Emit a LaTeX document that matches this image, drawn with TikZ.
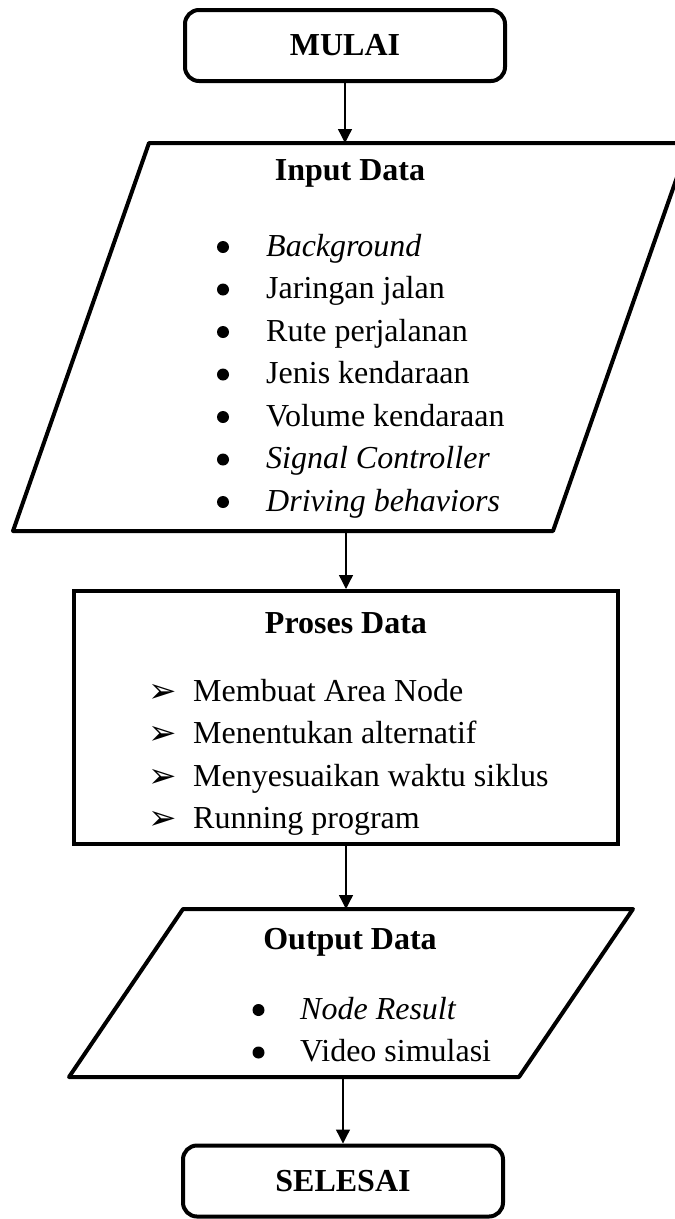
\documentclass[tikz,border=0pt]{standalone}
\usepackage{fontspec}
\setmainfont{Liberation Serif}
\newfontfamily\dejavu{DejaVu Sans}
\usetikzlibrary{arrows.meta}

\newcommand{\pnh}{\raisebox{-1pt}[0pt][0pt]{\dejavu\fontsize{34}{34}\selectfont ➢}}

\begin{document}
\begin{tikzpicture}[x=1pt,y=-1pt,
    terminal/.style={rectangle, rounded corners=14pt, draw, line width=4pt,
      minimum width=320pt, minimum height=71pt, font=\fontsize{32}{38}\selectfont\bfseries},
    io/.style={rectangle, inner sep=0pt, outer sep=0pt},
    garis/.style={draw, line width=4pt, line join=round},
    kotak/.style={rectangle, draw, line width=4pt, minimum width=544pt, minimum height=253pt},
    judul/.style={font=\fontsize{32}{38}\selectfont\bfseries},
    daftar/.style={anchor=base west, inner sep=0pt, font=\fontsize{32}{42.5}\selectfont},
    panah/.style={line width=1.3pt, -{Triangle[length=14pt,width=14pt]}}]

    \useasboundingbox (0,0) rectangle (675,1219);
    \clip (0,0) rectangle (675,1219);

    % blok utama
    \node[terminal] (mulai) at (345,45.5) {MULAI};
    \node[io, minimum width=540pt, minimum height=388pt] (input) at (351,337) {};
    \draw[garis] ([xshift=68pt]input.north west) -- ([xshift=68pt]input.north east)
      -- ([xshift=-68pt]input.south east) -- ([xshift=-68pt]input.south west) -- cycle;
    \node[kotak] (proses) at (346,717.5) {};
    \node[io, minimum width=450pt, minimum height=168pt] (output) at (351,993) {};
    \draw[garis] ([xshift=57pt]output.north west) -- ([xshift=57pt]output.north east)
      -- ([xshift=-57pt]output.south east) -- ([xshift=-57pt]output.south west) -- cycle;
    \node[terminal] (selesai) at (343,1181) {SELESAI};

    % isi blok
    \node[judul] (tinput) at (350,173) {Input Data};
    \node[daftar] (linput) at (266,256) {\begin{tabular}[t]{@{}l@{}}
      \textit{Background}\\
      Jaringan jalan\\
      Rute perjalanan\\
      Jenis kendaraan\\
      Volume kendaraan\\
      \textit{Signal Controller}\\
      \textit{Driving behaviors}
    \end{tabular}};
    \foreach \i in {0,...,6}
      \fill (223,247+42.5*\i) circle (6pt);

    \node[judul] (tproses) at (346,623) {Proses Data};
    \node[daftar] (lproses) at (148,701) {\begin{tabular}[t]{@{}l@{}}
      \makebox[45pt][l]{\pnh}Membuat Area Node\\
      \makebox[45pt][l]{\pnh}Menentukan alternatif\\
      \makebox[45pt][l]{\pnh}Menyesuaikan waktu siklus\\
      \makebox[45pt][l]{\pnh}Running program
    \end{tabular}};

    \node[judul] (toutput) at (350,942) {Output Data};
    \node[daftar] (loutput) at (300,1019) {\begin{tabular}[t]{@{}l@{}}
      \textit{Node Result}\\
      Video simulasi
    \end{tabular}};
    \foreach \i in {0,1}
      \fill (258.5,1010+42.5*\i) circle (6pt);

    % panah
    \draw[panah] (mulai) -- (mulai |- input.north);
    \draw[panah] (input.south -| proses) -- (proses);
    \draw[panah] (proses) -- (proses |- output.north);
    \draw[panah] (output.south -| selesai) -- (selesai);
\end{tikzpicture}
\end{document}
